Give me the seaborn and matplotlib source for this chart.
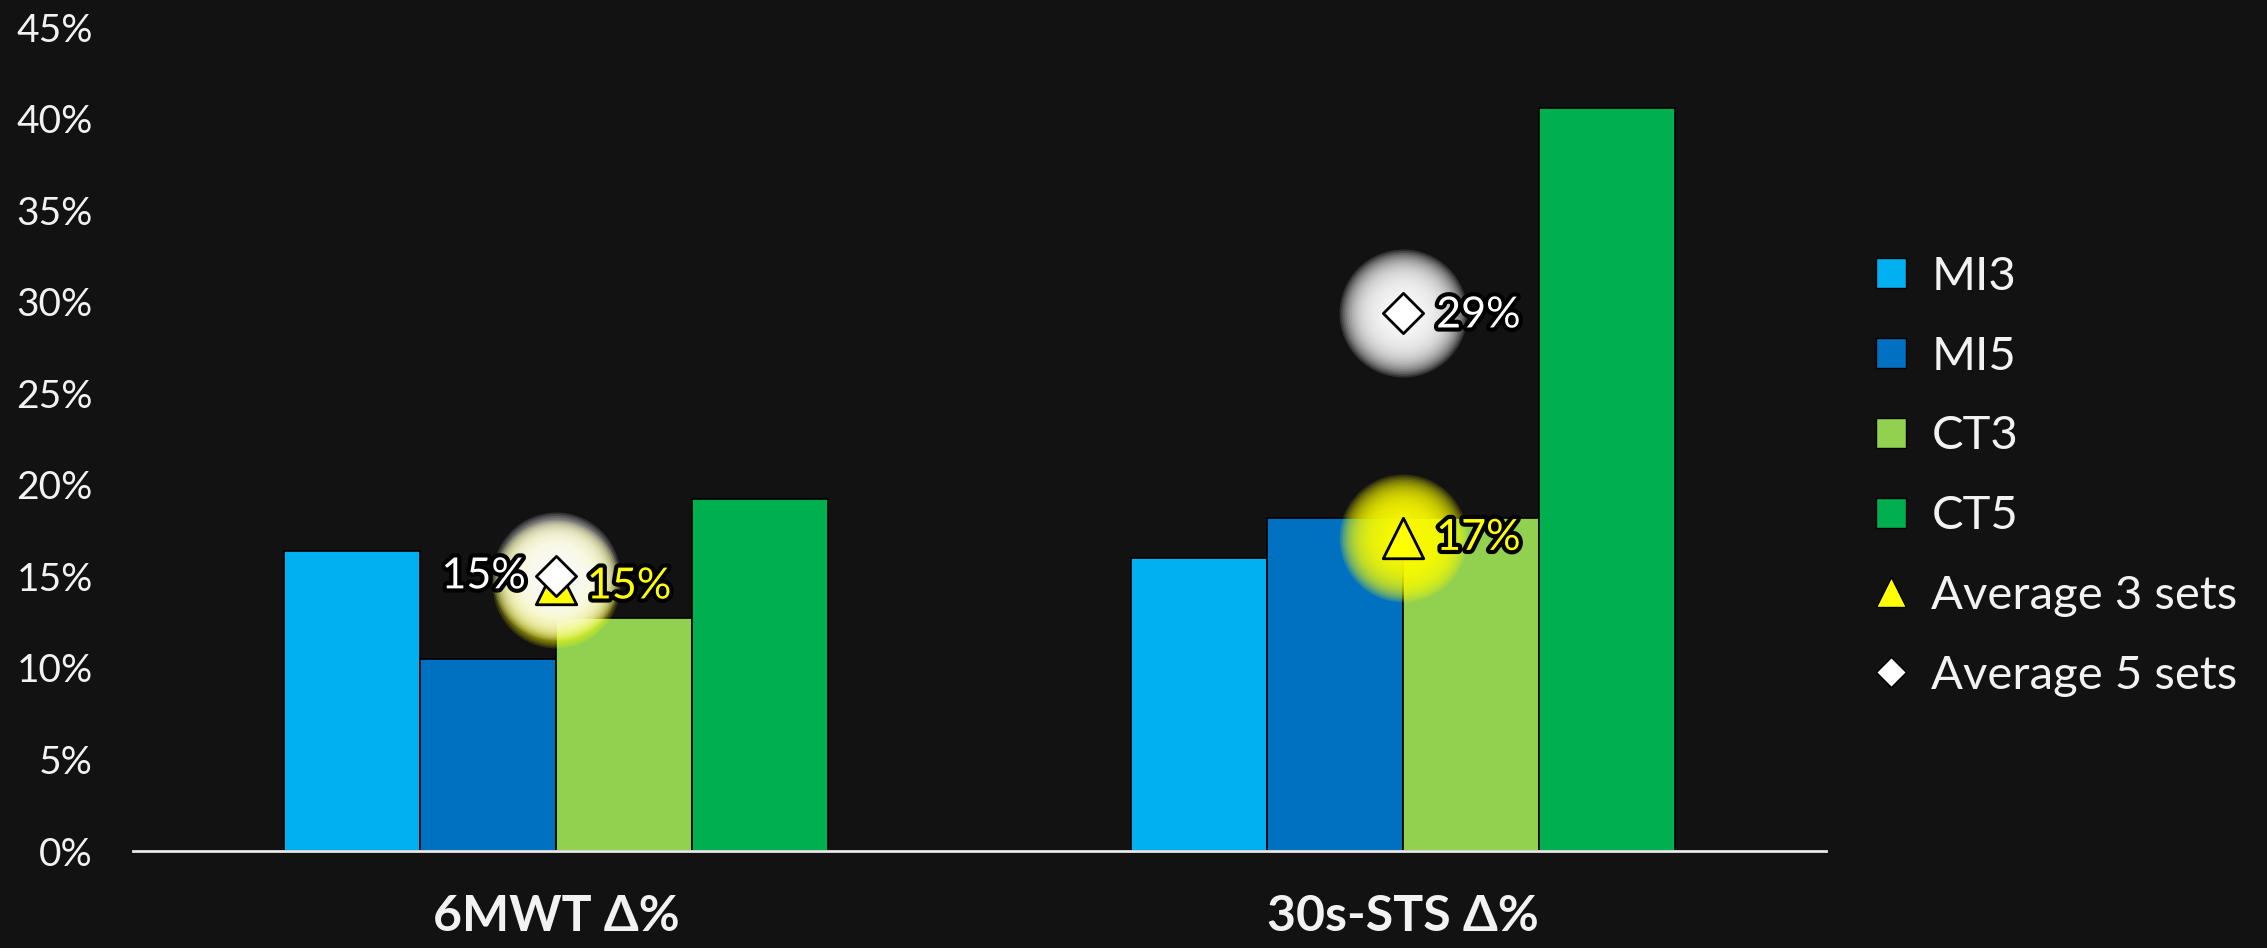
import numpy as np
import pandas as pd
import seaborn as sns
import matplotlib.pyplot as plt
import matplotlib.patheffects as pe
from matplotlib.lines import Line2D

# Improvement (%) per test and training protocol
tests = ["6MWT Δ%", "30s-STS Δ%"]
groups = ["MI3", "MI5", "CT3", "CT5"]
mi3 = [16.4, 16.0]
mi5 = [10.5, 18.2]
ct3 = [12.7, 18.2]
ct5 = [19.2, 40.6]
avg3 = [14.6, 17.1]
avg5 = [15.0, 29.4]
yticks = [0, 5, 10, 15, 20, 25, 30, 35, 40, 45]

colors = ["#00B0F0", "#0070C0", "#92D050", "#00B050"]
bg = "#121212"
fg = "#f2f2f2"
yellow = "#FFFF00"

sns.set_theme(style="dark")
plt.rcParams["font.family"] = ["Lato", "DejaVu Sans"]

df = pd.DataFrame({
    "test": np.repeat(tests, len(groups)),
    "group": groups * len(tests),
    "value": [v for row in zip(mi3, mi5, ct3, ct5) for v in row],
})

fig = plt.figure(figsize=(22.67, 9.48), dpi=100, facecolor=bg)
ax = fig.add_axes([0.0587, 0.1023, 0.7468, 0.8692])
ax.set_facecolor(bg)

sns.barplot(data=df, x="test", y="value", hue="group", hue_order=groups,
            palette=colors, saturation=1, width=0.643, gap=0,
            edgecolor="black", linewidth=1.2, ax=ax, legend=False, zorder=2)

ax.set_xlim(-0.5, len(tests) - 0.5)
ax.set_ylim(0, 45)
ax.set_yticks(yticks)
ax.set_yticklabels([f"{t}%" for t in yticks])
ax.set_xlabel("")
ax.set_ylabel("")
ax.grid(False)
for s in ["left", "right", "top"]:
    ax.spines[s].set_visible(False)
ax.spines["bottom"].set_color("#e8e8e8")
ax.spines["bottom"].set_linewidth(2)
ax.spines["bottom"].set_zorder(5)

ax.tick_params(axis="y", length=0, pad=29, labelsize=28, labelcolor=fg)
ax.tick_params(axis="x", length=0, pad=31, labelsize=36, labelcolor=fg)
for lab in ax.get_xticklabels():
    lab.set_fontweight("bold")

xpos = np.arange(len(tests))


def glow(x, y, color, rmax=64, n=30, alpha=0.13):
    # soft halo built from stacked translucent discs
    for i in range(n):
        r = rmax * (1 - i / n) ** 0.8
        ax.scatter([x], [y], s=(2 * r * 0.72) ** 2, color=color, alpha=alpha,
                   linewidths=0, zorder=3)


for x, a3, a5 in zip(xpos, avg3, avg5):
    glow(x, a3, yellow)
    glow(x, a5, "white")

stroke = [pe.withStroke(linewidth=6, foreground="black")]
ax.scatter(xpos, avg3, marker="^", s=850, color=yellow, edgecolors="black",
           linewidths=2, zorder=6)
ax.scatter(xpos, avg5, marker="D", s=420, color="white", edgecolors="black",
           linewidths=2, zorder=7)

# value labels for the averages
lab_kw = dict(textcoords="offset points", va="center", fontsize=31,
              path_effects=stroke, zorder=8)
ax.annotate(f"{avg5[0]:.0f}%", (xpos[0], avg5[0]), xytext=(-22, 0),
            ha="right", color="white", **lab_kw)
ax.annotate(f"{avg3[0]:.0f}%", (xpos[0], avg3[0]), xytext=(22, -2),
            ha="left", color=yellow, **lab_kw)
ax.annotate(f"{avg5[1]:.0f}%", (xpos[1], avg5[1]), xytext=(24, -2),
            ha="left", color="white", **lab_kw)
ax.annotate(f"{avg3[1]:.0f}%", (xpos[1], avg3[1]), xytext=(24, 0),
            ha="left", color=yellow, **lab_kw)

handles = [Line2D([], [], ls="none", marker="s", markersize=21,
                  markerfacecolor=c, markeredgecolor="black", markeredgewidth=1)
           for c in colors]
handles.append(Line2D([], [], ls="none", marker="^", markersize=22,
                      markerfacecolor=yellow, markeredgecolor="black", markeredgewidth=1))
handles.append(Line2D([], [], ls="none", marker="D", markersize=15,
                      markerfacecolor="white", markeredgecolor="black", markeredgewidth=1))
labels = groups + ["Average 3 sets", "Average 5 sets"]
leg = fig.legend(handles, labels, loc="upper left", bbox_to_anchor=(0.803, 0.775),
                 frameon=False, fontsize=34, labelcolor=fg, labelspacing=0.8,
                 handletextpad=0.25, handlelength=1.2)

fig.savefig("out.png", dpi=100, facecolor=bg)
